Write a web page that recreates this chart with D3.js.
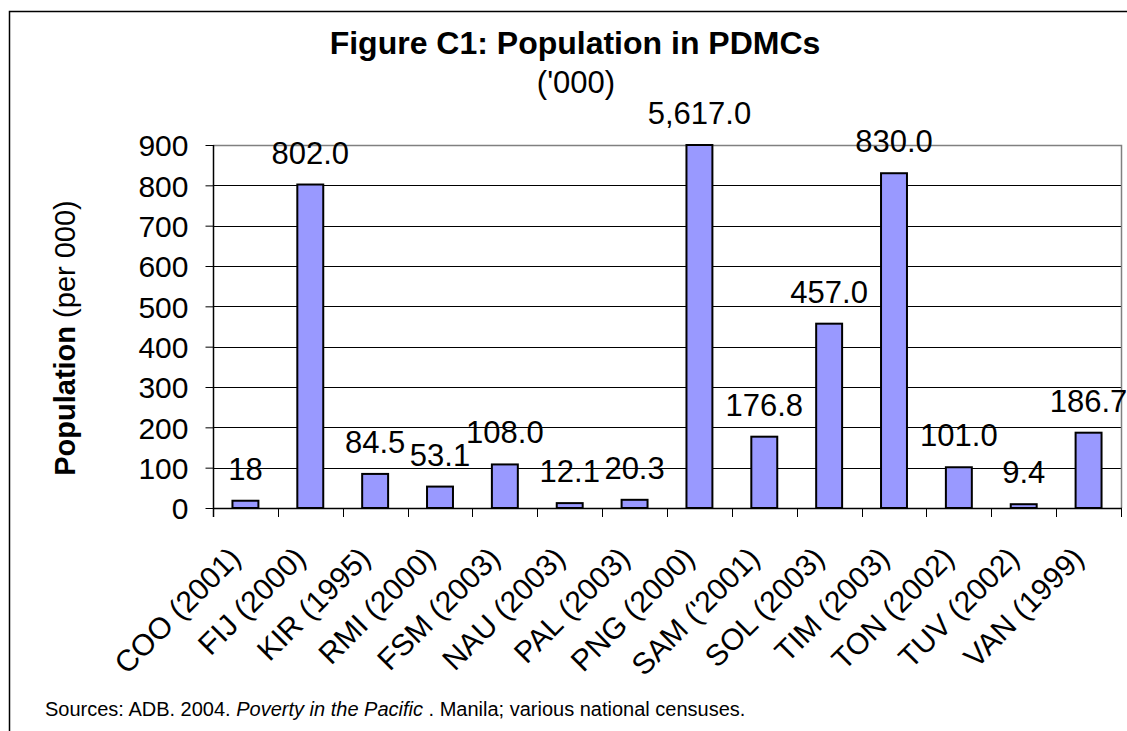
<!DOCTYPE html>
<html>
<head>
<meta charset="utf-8">
<script src="https://cdn.jsdelivr.net/npm/d3@7"></script>
<style>
  html, body { margin: 0; padding: 0; background: #fff; }
  svg { display: block; font-family: "Liberation Sans", Arial, sans-serif; }
</style>
</head>
<body>
<svg id="chart" width="1127" height="731"></svg>
<script>
// ---- data ----
const categories = ["COO (2001)", "FIJ (2000)", "KIR (1995)", "RMI (2000)", "FSM (2003)", "NAU (2003)", "PAL (2003)", "PNG (2000)", "SAM ('2001)", "SOL (2003)", "TIM (2003)", "TON (2002)", "TUV (2002)", "VAN (1999)"];
const values = [18, 802.0, 84.5, 53.1, 108.0, 12.1, 20.3, 5617.0, 176.8, 457.0, 830.0, 101.0, 9.4, 186.7];
const valueLabels = ["18", "802.0", "84.5", "53.1", "108.0", "12.1", "20.3", "5,617.0", "176.8", "457.0", "830.0", "101.0", "9.4", "186.7"];
const yTicks = [0, 100, 200, 300, 400, 500, 600, 700, 800, 900];
const title = "Figure C1: Population in PDMCs";
const subtitle = "('000)";

// ---- layout ----
const svg = d3.select("#chart");
const plot = { left: 213, right: 1121, top: 145, bottom: 508 };

const x = d3.scaleBand().domain(categories).range([plot.left, plot.right]).paddingInner(0.6).paddingOuter(0.3);
const xSlot = d3.scaleBand().domain(categories).range([plot.left, plot.right]).padding(0);
const y = d3.scaleLinear().domain([0, 900]).range([plot.bottom, plot.top]).clamp(true);

// outer frame (left + top visible)
svg.append("path")
  .attr("d", "M9.5,731 L9.5,11.5 L1127,11.5")
  .attr("fill", "none").attr("stroke", "#000").attr("stroke-width", 1.5);

// gridlines
svg.append("g").selectAll("line").data(yTicks.filter(d => d > 0 && d < 900)).join("line")
  .attr("x1", plot.left).attr("x2", plot.right)
  .attr("y1", d => Math.round(y(d)) + 0.5).attr("y2", d => Math.round(y(d)) + 0.5)
  .attr("stroke", "#000").attr("stroke-width", 1);

// plot border top & right (gray)
svg.append("path")
  .attr("d", `M${plot.left},${Math.round(y(900)) + 0.5} L${plot.right + 0.5},${Math.round(y(900)) + 0.5} L${plot.right + 0.5},${plot.bottom}`)
  .attr("fill", "none").attr("stroke", "#808080").attr("stroke-width", 1.5);

// bars
svg.append("g").selectAll("rect").data(values).join("rect")
  .attr("x", (d, i) => x(categories[i]))
  .attr("width", x.bandwidth())
  .attr("y", d => y(d))
  .attr("height", d => y(0) - y(d))
  .attr("fill", "#9999FF")
  .attr("stroke", "#000")
  .attr("stroke-width", 2);

// y axis
const yAxis = d3.axisLeft(y).tickValues(yTicks).tickSize(8).tickPadding(17).tickFormat(d3.format("d"));
const gy = svg.append("g").attr("transform", `translate(${plot.left + 0.5},0)`).call(yAxis);
gy.select(".domain").attr("stroke", "#000").attr("stroke-width", 1.5).attr("d", `M0,${plot.top}V${plot.bottom + 9}`);
gy.selectAll(".tick line").attr("stroke", "#000");
gy.selectAll(".tick text").attr("font-size", 30).attr("fill", "#000").attr("font-family", "Liberation Sans, Arial, sans-serif").attr("dy", "0.36em");

// x axis line and boundary ticks
svg.append("line")
  .attr("x1", plot.left).attr("x2", plot.right + 1)
  .attr("y1", plot.bottom + 0.5).attr("y2", plot.bottom + 0.5)
  .attr("stroke", "#000").attr("stroke-width", 1.5);
const boundaries = categories.map(c => xSlot(c)).concat([plot.right]);
svg.append("g").selectAll("line").data(boundaries).join("line")
  .attr("x1", d => Math.round(d) + 0.5).attr("x2", d => Math.round(d) + 0.5)
  .attr("y1", plot.bottom).attr("y2", plot.bottom + 9)
  .attr("stroke", "#000").attr("stroke-width", 1);

// x labels (rotated)
svg.append("g").selectAll("text").data(categories).join("text")
  .attr("transform", d => `translate(${xSlot(d) + xSlot.bandwidth() / 2 - 3},${plot.bottom + 52}) rotate(-45)`)
  .attr("text-anchor", "end")
  .attr("font-size", 30)
  .attr("fill", "#000")
  .text(d => d);

// value labels
svg.append("g").selectAll("text").data(values).join("text")
  .attr("x", (d, i) => x(categories[i]) + x.bandwidth() / 2)
  .attr("y", d => y(d) - 21)
  .attr("text-anchor", "middle")
  .attr("font-size", 31)
  .attr("fill", "#000")
  .text((d, i) => valueLabels[i]);

// title
svg.append("text").attr("x", 575).attr("y", 54).attr("text-anchor", "middle")
  .attr("font-size", 32).attr("font-weight", "bold").text(title);
svg.append("text").attr("x", 576).attr("y", 93).attr("text-anchor", "middle")
  .attr("font-size", 31).text(subtitle);

// y axis title
const yt = svg.append("text")
  .attr("transform", `translate(75,${338}) rotate(-90)`)
  .attr("text-anchor", "middle")
  .attr("font-size", 29);
yt.append("tspan").attr("font-weight", "bold").text("Population");
yt.append("tspan").text(" (per 000)");

// source note
const src = svg.append("text").attr("x", 45).attr("y", 716).attr("font-size", 20).attr("fill", "#000");
src.append("tspan").text("Sources: ADB. 2004. ");
src.append("tspan").attr("font-style", "italic").text("Poverty in the Pacific");
src.append("tspan").text(" . Manila; various national censuses.");
</script>
</body>
</html>
